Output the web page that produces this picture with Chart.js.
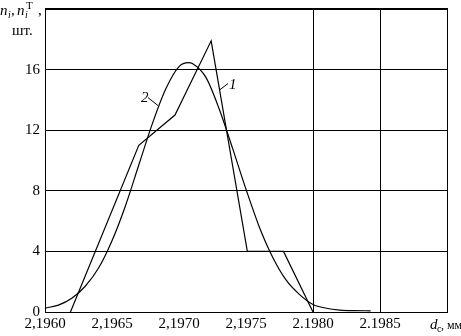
<!DOCTYPE html>
<html>
<head>
<meta charset="utf-8">
<script src="https://cdn.jsdelivr.net/npm/chart.js@4"></script>
<style>
  html, body { margin: 0; padding: 0; background: #fff; overflow: hidden; }
  #wrap { width: 461px; height: 336px; }
  canvas { display: block; }
</style>
</head>
<body>
<div id="wrap"><canvas id="chart" width="461" height="336"></canvas></div>
<script>
// polygon 1 (experiment) - d_c, mm / n_i
const polyX = [2.19619, 2.19670, 2.19697, 2.19724, 2.19751, 2.19778, 2.19800];
const polyY = [0, 11, 13, 17.9, 4, 4, 0];

// curve 2 (theory) - d_c, mm / n_i^T
const curveX = [2.1960, 2.1961, 2.1962, 2.1963, 2.1964, 2.1965, 2.1966, 2.1967, 2.1968, 2.1969,
                2.1970, 2.19707, 2.1971, 2.1972, 2.1973, 2.1974, 2.1975, 2.1976, 2.1977, 2.1978,
                2.1979, 2.1980, 2.1981, 2.1982, 2.1983, 2.19843];
const curveY = [0.26, 0.45, 0.9, 1.7, 2.9, 4.7, 7.0, 9.7, 12.4, 14.7,
                16.2, 16.46, 16.4, 15.5, 13.4, 10.8, 8.1, 5.6, 3.6, 2.1,
                1.15, 0.5, 0.25, 0.13, 0.09, 0.08];

// axes
const xTickValues = [2.1960, 2.1965, 2.1970, 2.1975, 2.1980, 2.1985, 2.1990];
const xTickLabels = ['2,1960', '2,1965', '2,1970', '2,1975', '2.1980', '2.1985', ''];
const yTickValues = [0, 4, 8, 12, 16, 20];
const yTickLabels = ['0', '4', '8', '12', '16', ''];

// curve numbers with leader lines: [label, textX, textY, fromX, fromY, toX, toY]
const curveNotes = [
  ['1', 2.197373, 14.75, 2.197366, 15.08, 2.197306, 14.68],
  ['2', 2.196716, 13.83, 2.196769, 14.15, 2.196843, 13.63]
];

const serif = '"Liberation Serif", "DejaVu Serif", serif';

function toPts(xs, ys) {
  return xs.map((x, i) => ({ x: x, y: ys[i] }));
}

// frame, titles and curve numbers
const textPlugin = {
  id: 'texts',
  afterDraw(chart) {
    const ctx = chart.ctx;
    const a = chart.chartArea;
    const sx = chart.scales.x, sy = chart.scales.y;
    ctx.save();
    ctx.fillStyle = '#000';
    ctx.strokeStyle = '#000';

    // right edge and heavier top edge of the frame
    ctx.lineWidth = 1;
    ctx.beginPath();
    ctx.moveTo(Math.round(a.right) + 0.5, a.top);
    ctx.lineTo(Math.round(a.right) + 0.5, a.bottom);
    ctx.stroke();
    ctx.lineWidth = 2;
    ctx.beginPath();
    ctx.moveTo(a.left, Math.round(a.top));
    ctx.lineTo(Math.round(a.right) + 1, Math.round(a.top));
    ctx.stroke();

    ctx.textBaseline = 'alphabetic';
    ctx.textAlign = 'left';

    // y title: n_i, n_i^T,
    ctx.font = 'italic 15px ' + serif;
    ctx.fillText('n', 0, 15);
    ctx.font = 'italic 10px ' + serif;
    ctx.fillText('i', 8, 18);
    ctx.font = '15px ' + serif;
    ctx.fillText(',', 11, 15);
    ctx.font = 'italic 15px ' + serif;
    ctx.fillText('n', 17, 15);
    ctx.font = 'italic 10px ' + serif;
    ctx.fillText('i', 25, 18);
    ctx.font = '11px ' + serif;
    ctx.fillText('T', 26, 9);
    ctx.font = '15px ' + serif;
    ctx.fillText(',', 38, 15);
    ctx.fillText('шт.', 12, 35);

    // x title: d_c, мм
    ctx.font = 'italic 15px ' + serif;
    ctx.fillText('d', 430, 329);
    ctx.font = '10px ' + serif;
    ctx.fillText('c', 437, 332);
    ctx.font = '12px ' + serif;
    ctx.fillText(', мм', 441, 329);

    // curve numbers
    ctx.lineWidth = 1;
    curveNotes.forEach(n => {
      ctx.font = 'italic 15px ' + serif;
      ctx.fillText(n[0], sx.getPixelForValue(n[1]), sy.getPixelForValue(n[2]));
      ctx.beginPath();
      ctx.moveTo(sx.getPixelForValue(n[3]), sy.getPixelForValue(n[4]));
      ctx.lineTo(sx.getPixelForValue(n[5]), sy.getPixelForValue(n[6]));
      ctx.stroke();
    });
    ctx.restore();
  }
};

new Chart(document.getElementById('chart'), {
  type: 'line',
  data: {
    datasets: [
      {
        label: '1',
        data: toPts(polyX, polyY),
        borderColor: '#000',
        borderWidth: 1.2,
        pointRadius: 0,
        tension: 0,
        fill: false
      },
      {
        label: '2',
        data: toPts(curveX, curveY),
        borderColor: '#000',
        borderWidth: 1.2,
        pointRadius: 0,
        cubicInterpolationMode: 'monotone',
        fill: false
      }
    ]
  },
  options: {
    responsive: false,
    animation: false,
    devicePixelRatio: 1,
    layout: { padding: { top: 9, right: 14, left: 0, bottom: 0 } },
    plugins: {
      legend: { display: false },
      tooltip: { enabled: false }
    },
    scales: {
      x: {
        type: 'linear',
        min: 2.1960,
        max: 2.1990,
        afterBuildTicks: s => { s.ticks = xTickValues.map(v => ({ value: v })); },
        afterFit: s => { s.height = 24; s.paddingLeft = 0; s.paddingRight = 0; },
        border: { color: '#000', width: 1 },
        grid: {
          drawTicks: false,
          color: c => (c.index >= 4 ? '#000' : 'rgba(0,0,0,0)'),
          lineWidth: 1
        },
        ticks: {
          padding: 3,
          maxRotation: 0,
          autoSkip: false,
          color: '#000',
          font: { family: serif, size: 15 },
          callback: (v, i) => xTickLabels[i]
        }
      },
      y: {
        min: 0,
        max: 20,
        afterBuildTicks: s => { s.ticks = yTickValues.map(v => ({ value: v })); },
        afterFit: s => { s.width = 45; s.paddingTop = 0; s.paddingBottom = 0; },
        border: { color: '#000', width: 1 },
        grid: {
          drawTicks: false,
          color: '#000',
          lineWidth: 1
        },
        ticks: {
          padding: 5,
          autoSkip: false,
          color: '#000',
          font: { family: serif, size: 15 },
          callback: (v, i) => yTickLabels[i]
        }
      }
    }
  },
  plugins: [textPlugin]
});
</script>
</body>
</html>
